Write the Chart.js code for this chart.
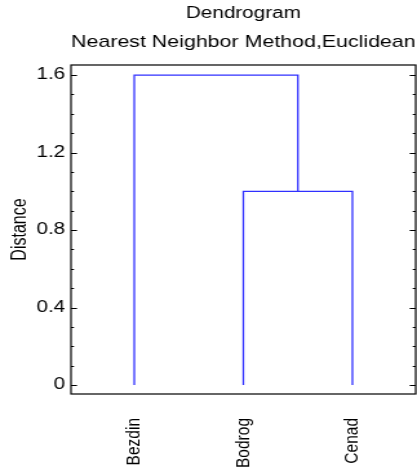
<!DOCTYPE html>
<html>
<head>
<meta charset="utf-8">
<script src="https://cdn.jsdelivr.net/npm/chart.js@4.4.0/dist/chart.umd.min.js"></script>
<style>
  html, body { margin: 0; padding: 0; background: #fff; overflow: hidden; }
  body { width: 417px; height: 474px; }
  /* the source picture is stretched sideways, so draw narrow and widen */
  #wrap { width: 323px; height: 474px; transform-origin: 0 0; }
</style>
</head>
<body>
<div id="wrap"><canvas id="dendro"></canvas></div>
<script>
// ---------- Data ----------
var leafNames   = ['Bezdin', 'Bodrog', 'Cenad'];
// nodes 0..n-1 are leaves, n.. are the merges below (in order)
var mergeLeft   = [1, 0];
var mergeRight  = [2, 3];
var mergeHeight = [1.0, 1.6];
var yTickValues = [0, 0.4, 0.8, 1.2, 1.6];
var yMinorStep  = 0.1;

var stretchX = 417 / 323;
document.getElementById('wrap').style.transform = 'scaleX(' + stretchX + ')';

var lineBlue = '#3030ff';
var fontFam  = "'Liberation Sans', Arial, sans-serif";

// ---------- Build dendrogram links from the merges ----------
var nodeX = leafNames.map(function (_, i) { return i + 1; });
var nodeY = leafNames.map(function () { return 0; });
var linkSets = [];
mergeHeight.forEach(function (h, k) {
  var a = mergeLeft[k], b = mergeRight[k];
  linkSets.push({
    type: 'line',
    data: [
      { x: nodeX[a], y: nodeY[a] },
      { x: nodeX[a], y: h },
      { x: nodeX[b], y: h },
      { x: nodeX[b], y: nodeY[b] }
    ],
    borderColor: lineBlue,
    borderWidth: 1.3,
    pointRadius: 0,
    tension: 0,
    fill: false
  });
  nodeX.push((nodeX[a] + nodeX[b]) / 2);
  nodeY.push(h);
});

// frame with inward ticks on both sides
var framePlugin = {
  id: 'frame',
  afterDraw: function (chart) {
    var ca = chart.chartArea, ctx = chart.ctx, ys = chart.scales.y;
    ctx.save();
    ctx.strokeStyle = '#000';
    ctx.lineWidth = 1.2;
    ctx.strokeRect(ca.left, ca.top, ca.right - ca.left, ca.bottom - ca.top);
    ctx.lineWidth = 1;
    var top = yTickValues[yTickValues.length - 1];
    for (var k = 0; k * yMinorStep <= top + 1e-9; k++) {
      var py = Math.round(ys.getPixelForValue(k * yMinorStep)) + 0.5;
      var len = (k % 4 === 0) ? 6 / stretchX : 3 / stretchX;
      ctx.beginPath();
      ctx.moveTo(ca.left, py); ctx.lineTo(ca.left + len, py);
      ctx.moveTo(ca.right, py); ctx.lineTo(ca.right - len, py);
      ctx.stroke();
    }
    ctx.restore();
  }
};

new Chart(document.getElementById('dendro'), {
  type: 'scatter',
  data: { datasets: linkSets },
  plugins: [framePlugin],
  options: {
    responsive: true,
    maintainAspectRatio: false,
    animation: false,
    layout: { padding: { left: 0, right: 1, top: 0, bottom: 0 } },
    plugins: {
      legend: { display: false },
      tooltip: { enabled: false },
      title: {
        display: true, text: 'Dendrogram', fullSize: false, color: '#000',
        font: { family: fontFam, size: 16, weight: 'normal' },
        padding: { top: 4.4, bottom: 8.2 }
      },
      subtitle: {
        display: true, text: 'Nearest Neighbor Method,Euclidean', fullSize: false, color: '#000',
        font: { family: fontFam, size: 17, weight: 'normal' },
        padding: { top: 0, bottom: 12.8 }
      }
    },
    scales: {
      x: {
        type: 'linear', min: 0.42, max: 3.58,
        grid: { display: false, drawTicks: false },
        border: { display: false },
        afterBuildTicks: function (s) { s.ticks = leafNames.map(function (_, i) { return { value: i + 1 }; }); },
        afterFit: function (s) { s.height = 80; },
        ticks: {
          minRotation: 90, maxRotation: 90, padding: 24, color: '#000',
          font: { family: fontFam, size: 15.5 },
          callback: function (v) { return leafNames[Math.round(v) - 1]; }
        }
      },
      y: {
        min: -0.046, max: 1.652,
        grid: { display: false, drawTicks: false },
        border: { display: false },
        afterBuildTicks: function (s) { s.ticks = yTickValues.map(function (v) { return { value: v }; }); },
        afterFit: function (s) { s.width = 55; },
        title: {
          display: true, text: 'Distance', color: '#000',
          font: { family: fontFam, size: 16 },
          padding: { top: 6, bottom: 0 }
        },
        ticks: {
          padding: 4.5, color: '#000',
          font: { family: fontFam, size: 16 },
          callback: function (v) { return v === 0 ? '0' : v.toFixed(1); }
        }
      }
    }
  }
});
</script>
</body>
</html>
